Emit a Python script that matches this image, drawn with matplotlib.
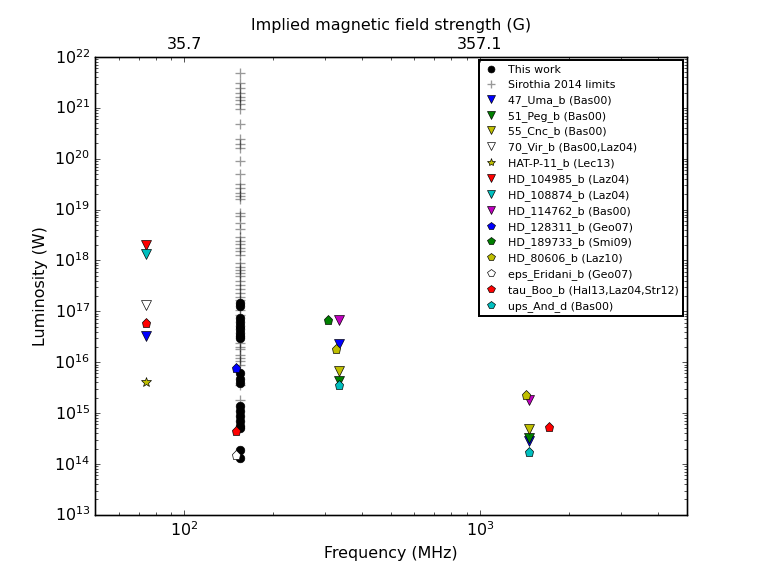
import matplotlib
matplotlib.use("Agg")
import matplotlib.pyplot as plt
import numpy as np

plt.style.use("classic")

# This work (MWA, 154 MHz) - luminosity limits in W
this_freq = 154.0
this_lum = [1.46e17, 1.26e17, 7.4e16, 6.3e16, 5.1e16, 4.4e16, 3.8e16, 3.2e16, 3.0e16,
            6.2e15, 4.6e15, 3.9e15, 1.35e15, 1.1e15, 8.7e14, 6.9e14, 5.5e14, 5.1e14,
            1.9e14, 1.3e14]

# Sirothia 2014 limits
sir_freq = 154.0
sir_lum = [4.8e21, 3.1e21, 2.45e21, 2.0e21, 1.66e21, 1.41e21, 1.2e21, 9.5e20, 4.8e20,
           2.45e20, 1.95e20, 1.62e20, 8.9e19, 4.9e19, 3.2e19, 2.6e19, 2.1e19, 1.82e19,
           1.62e19, 8.5e18, 7.4e18, 5.5e18, 4.1e18, 2.9e18, 2.45e18, 2.14e18, 1.78e18,
           1.51e18, 1.29e18, 8.9e17, 7.6e17, 6.6e17, 5.6e17, 4.9e17, 3.9e17, 3.3e17,
           2.7e17, 2.3e17, 1.95e17, 1.66e17, 1.07e17, 8.5e16, 2.4e16, 2.0e16, 1.78e16,
           1.41e16, 1.2e16, 1.05e16, 8.9e15, 3.5e15, 1.8e15]

# literature planets: name, marker, colour, freqs (MHz), luminosities (W)
planets = [
    ("47_Uma_b (Bas00)", "v", "b", [74, 333, 1465], [3.2e16, 2.3e16, 2.8e14]),
    ("51_Peg_b (Bas00)", "v", "g", [333, 1465], [4.3e15, 3.3e14]),
    ("55_Cnc_b (Bas00)", "v", "y", [333, 1465], [6.6e15, 4.8e14]),
    ("70_Vir_b (Bas00,Laz04)", "v", "w", [74], [1.35e17]),
    ("HAT-P-11_b (Lec13)", "*", "y", [74], [4.0e15]),
    ("HD_104985_b (Laz04)", "v", "r", [74], [2.05e18]),
    ("HD_108874_b (Laz04)", "v", "c", [74], [1.35e18]),
    ("HD_114762_b (Bas00)", "v", "m", [333, 1465], [6.6e16, 1.8e15]),
    ("HD_128311_b (Geo07)", "p", "b", [150], [7.8e15]),
    ("HD_189733_b (Smi09)", "p", "g", [307], [6.6e16]),
    ("HD_80606_b (Laz10)", "p", "y", [325, 1430], [1.8e16, 2.3e15]),
    ("eps_Eridani_b (Geo07)", "p", "w", [150], [1.5e14]),
    ("tau_Boo_b (Hal13,Laz04,Str12)", "p", "r", [74, 150, 1710], [5.9e16, 4.4e14, 5.4e14]),
    ("ups_And_d (Bas00)", "p", "c", [333, 1465], [3.6e15, 1.7e14]),
]

# top axis labels (field strength for 100 and 1000 MHz)
top_ticks = [100, 1000]
top_labels = ["35.7", "357.1"]

fig = plt.figure(figsize=(8, 6))
ax = fig.add_subplot(111)

ax.plot([this_freq] * len(this_lum), this_lum, "ko", ms=6.5, label="This work")
ax.plot([sir_freq] * len(sir_lum), sir_lum, "+", color="k", alpha=0.4, ms=8,
        mew=1.0, label="Sirothia 2014 limits")
for name, mk, col, f, lum in planets:
    size = 8 if mk == "*" else 7
    ax.plot(f, lum, mk, color=col, mec="k", ms=size, label=name)

ax.set_xscale("log")
ax.set_yscale("log")
ax.set_xlim(50, 5000)
ax.set_ylim(1e13, 1e22)
ax.set_xlabel("Frequency (MHz)")
ax.set_ylabel("Luminosity (W)")
leg = ax.legend(loc="upper right", numpoints=1, fontsize=8.3, labelspacing=0.45,
                markerscale=0.8, borderaxespad=0.3, handlelength=1.5)
leg.get_frame().set_linewidth(1.5)

ax2 = ax.twiny()
ax2.set_xscale("log")
ax2.set_xlim(ax.get_xlim())
ax2.set_xticks(top_ticks)
ax2.set_xticklabels(top_labels)
ax2.set_xlabel("Implied magnetic field strength (G)")

fig.savefig("out.png", dpi=95.375)
